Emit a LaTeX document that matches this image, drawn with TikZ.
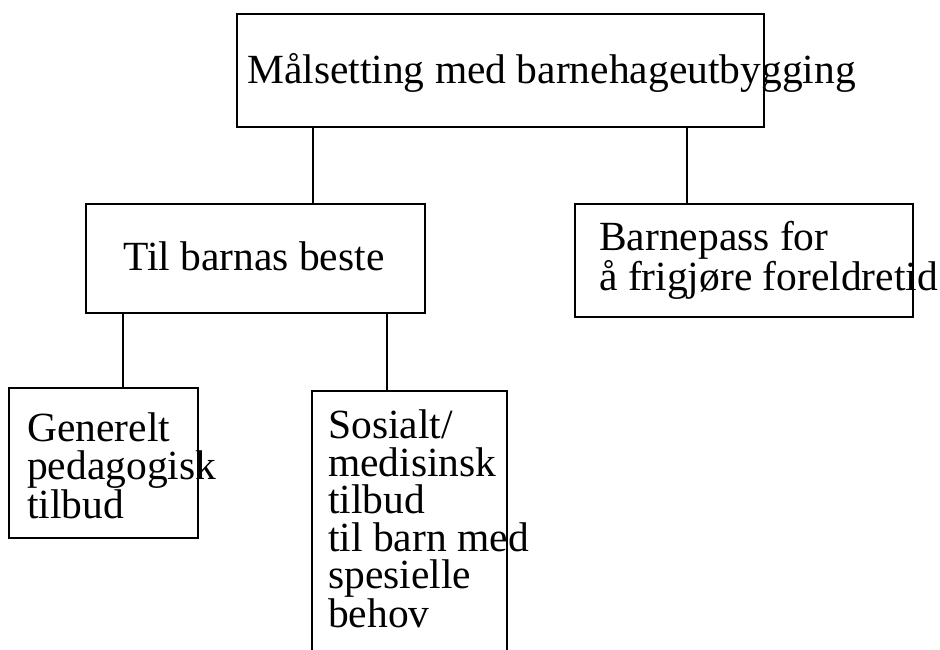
\documentclass[tikz,border=0pt]{standalone}
\usepackage{fontspec}
\setmainfont{Liberation Serif}
\begin{document}
\begin{tikzpicture}[x=1pt,y=-1pt,
  box/.style={draw, line width=2.2pt, inner sep=0pt, rectangle},
  txt/.style={inner sep=0pt, anchor=base west, align=left, font=\fontsize{41.5}{37.5}\selectfont},
  link/.style={line width=2.2pt}]
\useasboundingbox[fill=white] (0,0) rectangle (940,650);
% boxes
\node[box, minimum width=527pt, minimum height=113pt] (top) at (500.5,70.5) {};
\node[box, minimum width=339pt, minimum height=109pt] (mid) at (255.5,258.5) {};
\node[box, minimum width=338pt, minimum height=113pt] (pass) at (744,260.5) {};
\node[box, minimum width=189pt, minimum height=150pt] (gen) at (103.5,463) {};
\node[box, minimum width=195pt, minimum height=269pt] (sos) at (409.5,525.5) {};
% texts (base = baseline of the last line)
\node[txt] (ttop) at (247,84) {Målsetting med barnehageutbygging};
\node[txt] (tmid) at (123,270) {Til barnas beste};
\node[txt] (tpass) at (599,290.5) {Barnepass for\\å frigjøre foreldretid};
\node[txt] (tgen) at (27,518) {Generelt\\pedagogisk\\tilbud};
\node[txt] (tsos) at (328,627.5) {Sosialt/\\medisinsk\\tilbud\\til barn med\\spesielle\\behov};
% connectors
\coordinate (c1) at (313,0);
\coordinate (c2) at (687,0);
\coordinate (c3) at (123,0);
\coordinate (c4) at (387,0);
\draw[link] (top.south -| c1) -- (mid.north -| c1);
\draw[link] (top.south -| c2) -- (pass.north -| c2);
\draw[link] (mid.south -| c3) -- (gen.north -| c3);
\draw[link] (mid.south -| c4) -- (sos.north -| c4);
\end{tikzpicture}
\end{document}
